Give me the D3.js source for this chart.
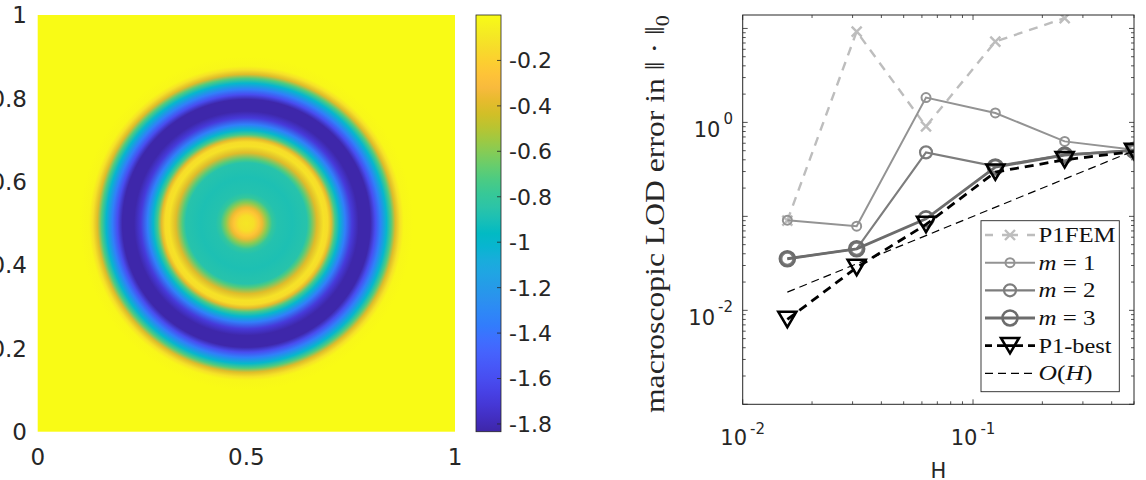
<!DOCTYPE html>
<html><head><meta charset="utf-8">
<script src="https://cdn.jsdelivr.net/npm/d3@7"></script>
<style>body{margin:0;background:#fff} svg{display:block}</style>
</head><body><svg id="c" width="1146" height="480"></svg>
<script>
// ---------- data: left panel (radial profile of the field) ----------
const fieldRadius = [0, 0.018, 0.030, 0.038, 0.050, 0.062, 0.074, 0.110, 0.145, 0.153, 0.169, 0.185, 0.195, 0.203, 0.213, 0.223, 0.237, 0.253, 0.269, 0.297, 0.309, 0.321, 0.336, 0.347, 0.357, 0.368, 0.377, 0.400];
const fieldValue  = [-0.10, -0.13, -0.25, -0.36, -0.60, -0.80, -0.87, -0.89, -0.86, -0.72, -0.40, -0.12, -0.14, -0.38, -0.75, -1.00, -1.35, -1.70, -1.83, -1.83, -1.60, -1.35, -1.00, -0.72, -0.40, -0.12, -0.02, 0];
const fieldCenter = [0.5, 0.5];
const fieldTicksX = [0, 0.5, 1];
const fieldTicksY = [0, 0.2, 0.4, 0.6, 0.8, 1];
const colorbarRange = [-1.834, 0];
const colorbarTicks = [-0.2, -0.4, -0.6, -0.8, -1, -1.2, -1.4, -1.6, -1.8];

// ---------- data: right panel ----------
const H = [1/64, 1/32, 1/16, 1/8, 1/4, 1/2];
const errP1FEM   = [0.090, 9.26, 0.907, 7.25, 12.85, null];
const errM1      = [0.091, 0.0786, 1.84, 1.26, 0.628, 0.51];
const errM2      = [0.0354, 0.0452, 0.480, 0.341, 0.455, 0.505];
const errM3      = [0.0354, 0.0452, 0.094, 0.335, 0.448, 0.505];
const errP1best  = [0.0080, 0.0286, 0.082, 0.296, 0.400, 0.490];
const ohH        = [1/64, 1/2];
const ohValue    = [1/64, 1/2];
const xMajor = [0.01, 0.1];
const yMajorLabelled = [1e-2, 1];
const seriesNames = ["P1FEM", "m = 1", "m = 2", "m = 3", "P1-best", "O(H)"];

// ---------- parula colormap (style) ----------
const parula = [[0.2422,0.1504,0.6603],[0.2578,0.1818,0.7511],[0.2706,0.2147,0.8364],[0.2783,0.2559,0.8991],[0.2813,0.3006,0.9414],[0.2795,0.3447,0.9717],[0.2699,0.3892,0.9906],[0.2440,0.4358,0.9988],[0.1963,0.4847,0.9892],[0.1786,0.5289,0.9682],[0.1687,0.5703,0.9359],[0.1460,0.6091,0.9079],[0.1248,0.6459,0.8883],[0.0952,0.6798,0.8598],[0.0297,0.7082,0.8163],[0.0067,0.7312,0.7660],[0.0964,0.7500,0.7120],[0.1717,0.7670,0.6554],[0.2161,0.7843,0.5923],[0.2906,0.7973,0.5188],[0.3909,0.8029,0.4354],[0.5044,0.7993,0.3480],[0.6174,0.7876,0.2612],[0.7242,0.7698,0.1910],[0.8203,0.7498,0.1535],[0.9035,0.7330,0.1774],[0.9728,0.7298,0.2394],[0.9970,0.7659,0.2199],[0.9892,0.8136,0.1885],[0.9676,0.8639,0.1643],[0.9597,0.9135,0.1423],[0.9691,0.9606,0.1064],[0.9769,0.9839,0.0805]];
const parulaPos = parula.map((d,i)=> i===parula.length-1 ? 1 : (2*i)/63);
const parulaCss = parula.map(c=>d3.rgb(c[0]*255,c[1]*255,c[2]*255).formatHex());
const cmap = d3.scaleLinear().domain(parulaPos).range(parulaCss).interpolate(d3.interpolateRgb).clamp(true);
const tOf = d3.scaleLinear().domain(colorbarRange).range([0,1]).clamp(true);
const color = v => cmap(tOf(v));
const fmt = v => d3.format("~g")(v).replace("\u2212","-");

const svg = d3.select("#c");
const defs = svg.append("defs");
const sans = "DejaVu Sans, Liberation Sans, sans-serif";
const serif = "Liberation Serif, DejaVu Serif, serif";
const txt = "#262626";

// ================= LEFT PANEL =================
const fx = d3.scaleLinear().domain([0,1]).range([37.7, 455]);
const fy = d3.scaleLinear().domain([0,1]).range([431.7, 15]);
const rMax = fieldRadius[fieldRadius.length-1];
const rPx = d3.scaleLinear().domain([0, 1]).range([0, fx(1)-fx(0)]);

const rg = defs.append("radialGradient").attr("id","field")
  .attr("gradientUnits","userSpaceOnUse")
  .attr("cx", fx(fieldCenter[0])).attr("cy", fy(fieldCenter[1])).attr("r", rPx(rMax));
rg.selectAll("stop").data(d3.zip(fieldRadius, fieldValue)).join("stop")
  .attr("offset", d=> d[0]/rMax).attr("stop-color", d=> color(d[1]));

svg.append("rect").attr("x", fx(0)).attr("y", fy(1)).attr("width", fx(1)-fx(0)).attr("height", fy(0)-fy(1))
  .attr("fill", color(0));
svg.append("circle").attr("cx", fx(fieldCenter[0])).attr("cy", fy(fieldCenter[1])).attr("r", rPx(rMax))
  .attr("fill","url(#field)");

svg.append("g").selectAll("text").data(fieldTicksX).join("text")
  .attr("x", d=>fx(d)).attr("y", 465).attr("text-anchor","middle")
  .attr("font-family", sans).attr("font-size", 23).attr("fill", txt).text(fmt);
svg.append("g").selectAll("text").data(fieldTicksY).join("text")
  .attr("x", 27).attr("y", d=>fy(d)).attr("dy","0.36em").attr("text-anchor","end")
  .attr("font-family", sans).attr("font-size", 23).attr("fill", txt).text(fmt);

// colorbar
const cbx0 = 476, cbx1 = 501;
const cy = d3.scaleLinear().domain(colorbarRange).range([431.7, 15]);
const lg = defs.append("linearGradient").attr("id","cbar").attr("x1",0).attr("y1",1).attr("x2",0).attr("y2",0);
lg.selectAll("stop").data(parulaPos).join("stop")
  .attr("offset", d=>d).attr("stop-color", (d,i)=>parulaCss[i]);
svg.append("rect").attr("x", cbx0).attr("y", cy(0)).attr("width", cbx1-cbx0).attr("height", cy(colorbarRange[0])-cy(0))
  .attr("fill","url(#cbar)").attr("stroke", txt).attr("stroke-width", 0.8);
svg.append("g").selectAll("line").data(colorbarTicks).join("line")
  .attr("x1", cbx1-4).attr("x2", cbx1).attr("y1", d=>cy(d)).attr("y2", d=>cy(d))
  .attr("stroke", txt).attr("stroke-width", 0.8);
svg.append("g").selectAll("text").data(colorbarTicks).join("text")
  .attr("x", 509).attr("y", d=>cy(d)).attr("dy","0.36em")
  .attr("font-family", sans).attr("font-size", 22).attr("fill", txt).text(fmt);

// ================= RIGHT PANEL =================
const X0 = 742.7, X1 = 1134, Y0 = 15, Y1 = 404.3;
const x = d3.scaleLog().domain([0.01, 0.5]).range([X0, X1]);
const y = d3.scaleLog().domain([1e-3, 13.9]).range([Y1, Y0]);

defs.append("clipPath").attr("id","plotclip").append("rect")
  .attr("x", X0).attr("y", Y0).attr("width", X1-X0).attr("height", Y1-Y0);

// ticks
const xMinor = [];
[0.01, 0.1].forEach(b=>{ for (let k=2;k<=9;k++){ const v=b*k; if (v<=0.5) xMinor.push(v);} });
const yDec = [1e-3,1e-2,1e-1,1,10];
const yMinor = [];
yDec.forEach(b=>{ for (let k=2;k<=9;k++){ const v=b*k; if (v<=13.9) yMinor.push(v);} });

const tk = svg.append("g").attr("stroke", txt).attr("stroke-width", 0.8);
function xt(vals, len){
  tk.append("g").selectAll("line").data(vals).join("line")
    .attr("x1", d=>x(d)).attr("x2", d=>x(d)).attr("y1", Y1).attr("y2", Y1-len);
  tk.append("g").selectAll("line").data(vals).join("line")
    .attr("x1", d=>x(d)).attr("x2", d=>x(d)).attr("y1", Y0).attr("y2", Y0+len);
}
function yt(vals, len){
  tk.append("g").selectAll("line").data(vals).join("line")
    .attr("y1", d=>y(d)).attr("y2", d=>y(d)).attr("x1", X0).attr("x2", X0+len);
  tk.append("g").selectAll("line").data(vals).join("line")
    .attr("y1", d=>y(d)).attr("y2", d=>y(d)).attr("x1", X1).attr("x2", X1-len);
}
xt(xMajor, 5); xt(xMinor, 3);
yt(yDec.filter(d=>d<=13.9), 5); yt(yMinor, 3);

// tick labels
const xl = svg.append("g").selectAll("text").data(xMajor).join("text")
  .attr("x", d=>x(d)).attr("y", 445).attr("text-anchor","middle")
  .attr("font-family", sans).attr("font-size", 21).attr("fill", txt);
xl.append("tspan").text("10");
xl.append("tspan").attr("dy", -11).attr("dx", 3).attr("font-size", 15).text(d=>String(Math.round(Math.log10(d))));

const yl = svg.append("g").selectAll("text").data(yMajorLabelled).join("text")
  .attr("x", 733).attr("y", d=>y(d)+15).attr("text-anchor","end")
  .attr("font-family", sans).attr("font-size", 21).attr("fill", txt);
yl.append("tspan").text("10");
yl.append("tspan").attr("dy", -13).attr("dx", 3).attr("font-size", 15).text(d=>String(Math.round(Math.log10(d))));

// axis titles
svg.append("text").attr("x", (X0+X1)/2).attr("y", 478).attr("text-anchor","middle")
  .attr("font-family", sans).attr("font-size", 21).attr("fill", txt).text("H");
const ylab = svg.append("text").attr("transform","translate(664,214) rotate(-90)").attr("text-anchor","middle")
  .attr("font-family", serif).attr("font-size", 27).attr("fill", txt)
  .attr("textLength", 398).attr("lengthAdjust","spacingAndGlyphs");
ylab.append("tspan").text("macroscopic LOD error in \u2016 \u00b7 \u2016");
ylab.append("tspan").attr("font-size", 19).attr("dy", 5).text("0");

// series
const plot = svg.append("g").attr("clip-path","url(#plotclip)");
const series = [
  {name: seriesNames[0], vals: errP1FEM, xs: H, stroke:"#bdbdbd", width:2.4, dash:"9,7", marker:"x", ms:5, mw:2.4},
  {name: seriesNames[1], vals: errM1, xs: H, stroke:"#939393", width:2, dash:null, marker:"o", ms:4.5, mw:2},
  {name: seriesNames[2], vals: errM2, xs: H, stroke:"#7d7d7d", width:2.2, dash:null, marker:"o", ms:6, mw:2.2},
  {name: seriesNames[3], vals: errM3, xs: H, stroke:"#6c6c6c", width:2.8, dash:null, marker:"o", ms:7.5, mw:2.6},
  {name: seriesNames[4], vals: errP1best, xs: H, stroke:"#000", width:2.8, dash:"9,6", marker:"v", ms:9, mw:2.6},
  {name: seriesNames[5], vals: ohValue, xs: ohH, stroke:"#000", width:1.2, dash:"8,5", marker:null}
];
const line = d3.line().defined(d=>d[1]!=null).x(d=>x(d[0])).y(d=>y(d[1]));
function drawMarker(g, s, cx, cyy){
  if (s.marker==="o"){
    g.append("circle").attr("cx",cx).attr("cy",cyy).attr("r",s.ms)
      .attr("fill","none").attr("stroke",s.stroke).attr("stroke-width",s.mw);
  } else if (s.marker==="x"){
    const m=s.ms;
    g.append("path").attr("d",`M${cx-m},${cyy-m}L${cx+m},${cyy+m}M${cx-m},${cyy+m}L${cx+m},${cyy-m}`)
      .attr("stroke",s.stroke).attr("stroke-width",s.mw).attr("fill","none");
  } else if (s.marker==="v"){
    const w=s.ms, h=s.ms*0.85;
    g.append("path").attr("d",`M${cx-w},${cyy-h}L${cx+w},${cyy-h}L${cx},${cyy+h}Z`)
      .attr("stroke",s.stroke).attr("stroke-width",s.mw).attr("fill","none").attr("stroke-linejoin","miter");
  }
}
series.forEach(s=>{
  const pts = d3.zip(s.xs, s.vals);
  plot.append("path").attr("d", line(pts)).attr("fill","none").attr("stroke", s.stroke)
    .attr("stroke-width", s.width).attr("stroke-dasharray", s.dash);
  if (s.marker){
    const g = plot.append("g");
    pts.filter(d=>d[1]!=null).forEach(d=> drawMarker(g, s, x(d[0]), y(d[1])));
  }
});

// frame
svg.append("rect").attr("x",X0).attr("y",Y0).attr("width",X1-X0).attr("height",Y1-Y0)
  .attr("fill","none").attr("stroke",txt).attr("stroke-width",1);

// legend
const LX0 = 981, LX1 = 1119.3, LY0 = 220.7, LY1 = 391.7;
svg.append("rect").attr("x",LX0).attr("y",LY0).attr("width",LX1-LX0).attr("height",LY1-LY0)
  .attr("fill","#fff").attr("stroke",txt).attr("stroke-width",0.9);
const rowY = d3.scalePoint().domain(seriesNames).range([235, 373.3]);
const textW = {"P1FEM":77, "m = 1":57, "m = 2":57, "m = 3":57, "P1-best":73, "O(H)":54};
series.forEach(s=>{
  const yy = rowY(s.name);
  const g = svg.append("g");
  g.append("line").attr("x1",985).attr("x2",1035).attr("y1",yy).attr("y2",yy)
    .attr("stroke",s.stroke).attr("stroke-width",s.width)
    .attr("stroke-dasharray", s.name==="P1FEM" ? "8,9,16,9,8" : s.name==="P1-best" ? "7,5,26,5,7" : s.dash);
  if (s.marker) drawMarker(g, s, 1010, yy);
  const t = g.append("text").attr("x",1038.5).attr("y",yy+7).attr("font-family",serif)
    .attr("font-size",21).attr("fill","#111")
    .attr("textLength", textW[s.name]).attr("lengthAdjust","spacingAndGlyphs");
  if (s.name.startsWith("m =")){
    t.append("tspan").attr("font-style","italic").text("m");
    t.append("tspan").text(" = " + s.name.slice(4));
  } else if (s.name==="O(H)"){
    t.append("tspan").attr("font-style","italic").text("O");
    t.append("tspan").text("(");
    t.append("tspan").attr("font-style","italic").text("H");
    t.append("tspan").text(")");
  } else t.text(s.name);
});
</script></body></html>
